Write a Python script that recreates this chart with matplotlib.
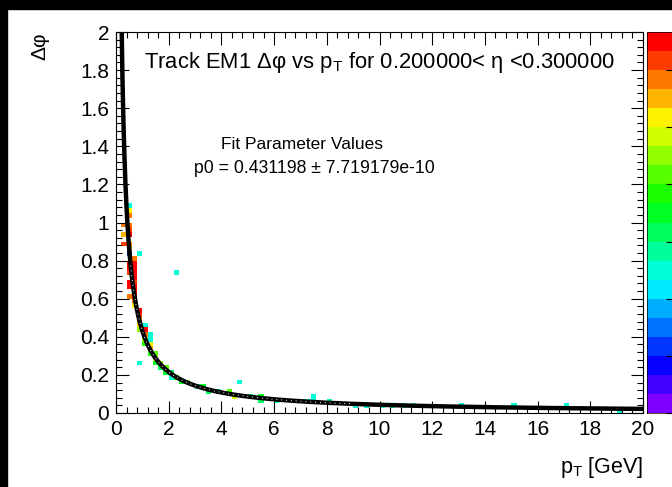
import numpy as np
import matplotlib
matplotlib.use("Agg")
import matplotlib.pyplot as plt
from matplotlib.colors import ListedColormap, BoundaryNorm, hsv_to_rgb
from matplotlib.ticker import MultipleLocator, FuncFormatter
from matplotlib.patches import Rectangle

plt.rcParams['font.family'] = ['Liberation Sans', 'DejaVu Sans']
plt.rcParams['mathtext.fontset'] = 'custom'
plt.rcParams['mathtext.rm'] = 'Liberation Sans'

# fit result printed on the chart
p0 = 0.431198
p0_err = "7.719179e-10"

# occupied histogram cells (pT centre, delta-phi centre, content)
cell_pt = [0.3, 0.3, 0.3,
           0.5, 0.5, 0.5, 0.5, 0.5, 0.5, 0.5, 0.5, 0.5,
           0.5, 0.5, 0.5, 0.5, 0.5, 0.5,
           0.7, 0.7, 0.7, 0.7, 0.7, 0.7, 0.7, 0.7, 0.7, 0.7, 0.7,
           0.9, 0.9, 0.9, 0.9, 0.9, 0.9, 0.9,
           1.1, 1.1, 1.1, 1.1, 1.1,
           1.3, 1.3, 1.3, 1.3, 1.3,
           1.5, 1.5, 1.5, 1.7, 1.7, 1.9, 1.9, 2.1, 2.1, 2.3, 2.3,
           2.5, 2.7, 3.1, 3.3, 3.5, 3.9, 4.3, 4.5, 4.7, 5.1, 5.5, 5.5,
           6.1, 7.1, 7.3, 7.5, 7.5, 8.1, 9.1, 9.5, 10.1, 10.5, 10.9, 11.3,
           13.1, 15.1, 17.1, 19.1]
cell_dphi = [0.99, 0.94, 0.89,
             1.09, 1.06, 1.03, 0.99, 0.96, 0.93, 0.89, 0.86, 0.83,
             0.79, 0.76, 0.73, 0.69, 0.66, 0.61,
             0.81, 0.79, 0.76, 0.74, 0.71, 0.69, 0.66, 0.64, 0.61, 0.59, 0.56,
             0.84, 0.54, 0.51, 0.49, 0.46, 0.44, 0.26,
             0.46, 0.43, 0.41, 0.39, 0.36,
             0.41, 0.39, 0.36, 0.33, 0.31,
             0.31, 0.29, 0.27, 0.26, 0.24, 0.23, 0.21, 0.21, 0.19, 0.73, 0.19,
             0.17, 0.16, 0.14, 0.13, 0.12, 0.11, 0.10, 0.09, 0.17, 0.085, 0.08, 0.07,
             0.07, 0.06, 0.05, 0.05, 0.09, 0.055, 0.045, 0.045, 0.045, 0.045, 0.045, 0.04,
             0.035, 0.03, 0.025, 0.022]
cell_count = [17, 16, 18,
              7.5, 15, 17, 17, 18, 19.5, 17, 16, 3.5,
              19.5, 19.5, 18, 19.5, 19.5, 17,
              17, 19.5, 19.5, 19.5, 19.5, 18, 19.5, 19.5, 19.5, 17, 15,
              7.5, 19.5, 18, 16, 15, 13, 7.5,
              7.5, 19.5, 17, 13, 11,
              7.5, 7.5, 15, 16, 11,
              12, 15, 10, 13, 9, 12, 10, 9, 7.5, 7.5, 11,
              10, 12, 8, 10, 9, 8, 12, 14, 7.5, 9, 10.5, 9,
              8, 8, 7.5, 7.5, 7.5, 8, 7.5, 7.5, 7.5, 7.5, 7.5, 7.5,
              7.5, 7.5, 7.5, 7.5]

x_ticks = [0, 2, 4, 6, 8, 10, 12, 14, 16, 18, 20]
y_ticks = [0, 0.2, 0.4, 0.6, 0.8, 1, 1.2, 1.4, 1.6, 1.8, 2]

pt_edges = np.linspace(0, 20, 101)
dphi_edges = np.linspace(0, 2, 81)

# ROOT-like palette: violet -> red, 20 contour levels
n_levels = 20
pal = ListedColormap([hsv_to_rgb((h, 1, 1)) for h in np.linspace(0.75, 0, n_levels)])
norm = BoundaryNorm(np.linspace(0, 20, n_levels + 1), n_levels)

fig = plt.figure(figsize=(6.72, 4.87), dpi=100)
ax = fig.add_axes([116/672, 1 - 413/487, (643-116)/672, (413-32)/487])

H, _, _ = np.histogram2d(cell_pt, cell_dphi, bins=[pt_edges, dphi_edges], weights=cell_count)
H = np.ma.masked_equal(H.T, 0)
mesh = ax.pcolormesh(pt_edges, dphi_edges, H, cmap=pal, norm=norm)

fit_pt = np.linspace(0.2, 20, 500)
ax.plot(fit_pt, p0 / fit_pt, color='black', lw=3.2, solid_capstyle='butt')
mask = (fit_pt > 0.55) & (fit_pt < 9)
ax.plot(fit_pt[mask], p0 / fit_pt[mask], color='white', lw=0.7, ls=(0, (1, 4)))

ax.set_xlim(0, 20)
ax.set_ylim(0, 2)
ax.set_xticks(x_ticks)
ax.set_yticks(y_ticks)
ax.xaxis.set_minor_locator(MultipleLocator(0.4))
ax.yaxis.set_minor_locator(MultipleLocator(0.04))
ax.yaxis.set_major_formatter(FuncFormatter(lambda v, p: "%g" % v))
ax.tick_params(which='both', direction='in', top=True, right=True, labelsize=15, width=0.8)
ax.tick_params(which='major', length=9, pad=5)
ax.tick_params(which='minor', length=4.5)
for s in ax.spines.values():
    s.set_linewidth(0.8)

ax.text(0.053, 0.906, "Track EM1 Δφ vs p$_{\\rm T}$ for 0.200000< η <0.300000",
        transform=ax.transAxes, fontsize=15.8, ha='left', va='baseline')
fig.text(302/672, 1 - 149/487, "Fit Parameter Values", fontsize=12.5, ha='center', va='baseline')
fig.text(314/672, 1 - 173/487, "p0 = %.6f ± %s" % (p0, p0_err), fontsize=12.7,
         ha='center', va='baseline')

fig.text(40/672, 1 - 32/487, "Δφ", rotation=90, fontsize=15, ha='center', va='top')
fig.text(643/672, 1 - 473/487, "p$_{\\rm T}$ [GeV]", fontsize=15.5, ha='right', va='baseline')

cax = fig.add_axes([647/672, 1 - 413/487, 30/672, (413-32)/487])
cb = fig.colorbar(mesh, cax=cax)
cb.outline.set_linewidth(0.5)
cax.tick_params(direction='in', length=8, labelright=False)

fig.patches.append(Rectangle((0, 1 - 9/487), 1, 9/487, transform=fig.transFigure,
                             color='black', zorder=10))
fig.patches.append(Rectangle((0, 0), 7/672, 1, transform=fig.transFigure,
                             color='black', zorder=10))

fig.savefig("out.png", dpi=100)
